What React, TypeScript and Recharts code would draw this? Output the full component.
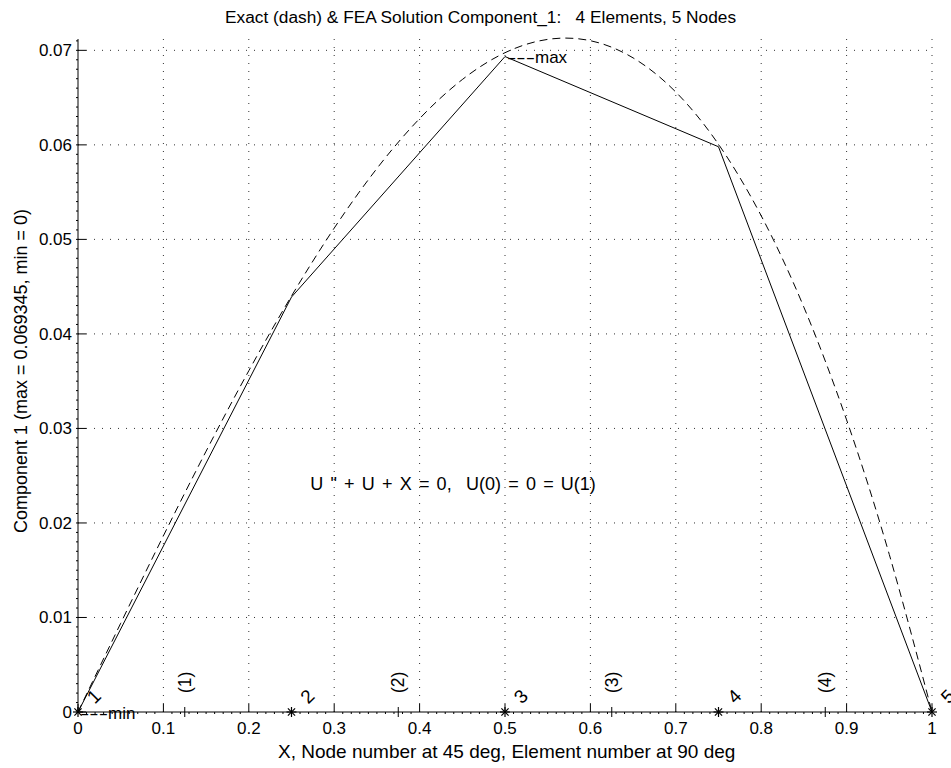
import React from "react";
import { ComposedChart, Line, Scatter, XAxis, YAxis, ReferenceLine } from "recharts";

const W = 951;
const H = 768;
const FONT = '"Liberation Sans", Arial, Helvetica, sans-serif';

// exact solution (dashed)
const EXACT_X = [0, 0.05, 0.1, 0.15, 0.2, 0.25, 0.3, 0.35, 0.4, 0.45, 0.5, 0.55, 0.6, 0.65, 0.7, 0.75, 0.8, 0.85, 0.9, 0.95, 1];
const EXACT_U = [0, 0.00939, 0.01864, 0.02759, 0.0361, 0.04401, 0.05119, 0.0575, 0.06278, 0.06691, 0.06975, 0.07116, 0.07102, 0.0692, 0.06559, 0.06006, 0.0525, 0.04282, 0.0309, 0.01666, 0];

// FEA nodal solution (solid)
const NODE_X = [0, 0.25, 0.5, 0.75, 1];
const FEA_U = [0, 0.0439, 0.069345, 0.0598, 0];
const NODE_LABELS = ["1", "2", "3", "4", "5"];

const ELEM_X = [0.125, 0.375, 0.625, 0.875];
const ELEM_LABELS = ["(1)", "(2)", "(3)", "(4)"];

const X_TICKS = [0, 0.1, 0.2, 0.3, 0.4, 0.5, 0.6, 0.7, 0.8, 0.9, 1];
const X_TICK_LABELS = ["0", "0.1", "0.2", "0.3", "0.4", "0.5", "0.6", "0.7", "0.8", "0.9", "1"];
const Y_TICKS = [0, 0.01, 0.02, 0.03, 0.04, 0.05, 0.06, 0.07];
const Y_TICK_LABELS = ["0", "0.01", "0.02", "0.03", "0.04", "0.05", "0.06", "0.07"];
const Y_MAX = 0.0712;

const NOTES = [
  { x: 0, y: 0, text: "min" },
  { x: 0.5, y: 0.069345, text: "max" },
];
const EQUATION = { x: 0.272, y: 0.0242, text: 'U " + U + X = 0,  U(0) = 0 = U(1)' };

const TITLE = "Exact (dash) & FEA Solution Component_1:   4 Elements, 5 Nodes";
const X_LABEL = "X, Node number at 45 deg, Element number at 90 deg";
const Y_LABEL = "Component 1 (max = 0.069345, min = 0)";

// minor tick positions
const X_MINOR = Array.from({ length: 101 }, (_, i) => i / 100);
const Y_MINOR = Array.from({ length: 72 }, (_, i) => i / 1000);

const exactData = EXACT_X.map((x, i) => ({ x, u: EXACT_U[i] }));
const feaData = NODE_X.map((x, i) => ({ x, u: FEA_U[i] }));
const nodeData = NODE_X.map((x, i) => ({ x, y: 0, label: NODE_LABELS[i] }));
const elemData = ELEM_X.map((x, i) => ({ x, y: 0, label: ELEM_LABELS[i] }));
const noteData = NOTES.map((n) => ({ ...n }));
const eqData = [{ ...EQUATION }];

const findMajor = (list: number[], v: number) => list.findIndex((t) => Math.abs(t - v) < 1e-9);

function XTick(props: any) {
  const { x, y, payload } = props;
  const i = findMajor(X_TICKS, payload.value);
  if (i < 0) return <line x1={x} x2={x} y1={y} y2={y + 2} stroke="#000" />;
  return (
    <g>
      <line x1={x} x2={x} y1={y} y2={y - 8} stroke="#000" />
      <text x={x} y={y + 22} textAnchor="middle" fontSize={17} fontFamily={FONT} fill="#000">
        {X_TICK_LABELS[i]}
      </text>
    </g>
  );
}

function YTick(props: any) {
  const { x, y, payload } = props;
  const i = findMajor(Y_TICKS, payload.value);
  if (i < 0) return <line x1={x} x2={x - 2} y1={y} y2={y} stroke="#000" />;
  return (
    <g>
      <line x1={x - 2} x2={x + 8} y1={y} y2={y} stroke="#000" />
      <text x={x - 6} y={y} dy="0.35em" textAnchor="end" fontSize={17} fontFamily={FONT} fill="#000">
        {Y_TICK_LABELS[i]}
      </text>
    </g>
  );
}

function NodeMark(props: any) {
  const { cx, cy, payload } = props;
  const r = 5;
  const d = r * 0.72;
  return (
    <g>
      <line x1={cx - r} x2={cx + r} y1={cy} y2={cy} stroke="#000" strokeWidth={1.2} />
      <line x1={cx} x2={cx} y1={cy - r} y2={cy + r} stroke="#000" strokeWidth={1.2} />
      <line x1={cx - d} x2={cx + d} y1={cy - d} y2={cy + d} stroke="#000" strokeWidth={1.2} />
      <line x1={cx - d} x2={cx + d} y1={cy + d} y2={cy - d} stroke="#000" strokeWidth={1.2} />
      <text transform={`translate(${cx},${cy}) rotate(-45)`} x={17} dy="0.35em" fontSize={19} fontFamily={FONT} fill="#000">
        {payload.label}
      </text>
    </g>
  );
}

function ElemMark(props: any) {
  const { cx, cy, payload } = props;
  return (
    <g>
      <line x1={cx} x2={cx} y1={cy - 5} y2={cy + 5} stroke="#000" />
      <text transform={`translate(${cx + 6},${cy - 19}) rotate(-90)`} fontSize={17.5} fontFamily={FONT} fill="#000">
        {payload.label}
      </text>
    </g>
  );
}

function NoteMark(props: any) {
  const { cx, cy, payload } = props;
  return (
    <text x={cx + 2} y={cy} dy="0.4em" fontSize={17} fontFamily={FONT} fill="#000">
      <tspan textLength={28} lengthAdjust="spacingAndGlyphs">---</tspan>
      <tspan>{payload.text}</tspan>
    </text>
  );
}

function EqMark(props: any) {
  const { cx, cy, payload } = props;
  return (
    <text x={cx} y={cy} dy="0.35em" fontSize={18} wordSpacing={2.2} fontFamily={FONT} fill="#000" style={{ whiteSpace: "pre" }}>
      {payload.text}
    </text>
  );
}

export default function App() {
  return (
    <div style={{ position: "absolute", left: 0, top: 0, width: W, height: H, background: "#fff" }}>
      <ComposedChart width={W} height={H} margin={{ top: 39, right: 19, bottom: 16, left: 18 }}>
        <XAxis
          type="number"
          dataKey="x"
          domain={[0, 1]}
          ticks={X_MINOR}
          interval={0}
          tick={XTick}
          tickLine={false}
          tickSize={0}
          tickMargin={0}
          height={40}
          axisLine={{ stroke: "#000" }}
        />
        <YAxis
          type="number"
          domain={[0, Y_MAX]}
          ticks={Y_MINOR}
          interval={0}
          tick={YTick}
          tickLine={false}
          tickSize={0}
          tickMargin={0}
          width={60}
          axisLine={{ stroke: "#000" }}
        />
        {X_TICKS.filter((v) => v > 0).map((v) => (
          <ReferenceLine key={"gx" + v} x={v} stroke="#333" strokeDasharray="1 7" />
        ))}
        {Y_TICKS.filter((v) => v > 0).map((v) => (
          <ReferenceLine key={"gy" + v} y={v} stroke="#333" strokeDasharray="1 7" />
        ))}
        <Line data={exactData} dataKey="u" type="natural" stroke="#000" strokeWidth={1} strokeDasharray="8 5" dot={false} isAnimationActive={false} />
        <Line data={feaData} dataKey="u" type="linear" stroke="#000" strokeWidth={1} dot={false} isAnimationActive={false} />
        <Scatter data={elemData} dataKey="y" shape={ElemMark} isAnimationActive={false} />
        <Scatter data={nodeData} dataKey="y" shape={NodeMark} isAnimationActive={false} />
        <Scatter data={noteData} dataKey="y" shape={NoteMark} isAnimationActive={false} />
        <Scatter data={eqData} dataKey="y" shape={EqMark} isAnimationActive={false} />
      </ComposedChart>
      <svg width={W} height={H} style={{ position: "absolute", left: 0, top: 0, pointerEvents: "none" }}>
        <text x={225} y={23} fontSize={17.3} fontFamily={FONT} fill="#000" style={{ whiteSpace: "pre" }}>
          {TITLE}
        </text>
        <text x={278} y={758} fontSize={19} fontFamily={FONT} fill="#000">
          {X_LABEL}
        </text>
        <text transform="translate(27,371) rotate(-90)" textAnchor="middle" fontSize={18} fontFamily={FONT} fill="#000">
          {Y_LABEL}
        </text>
      </svg>
    </div>
  );
}
